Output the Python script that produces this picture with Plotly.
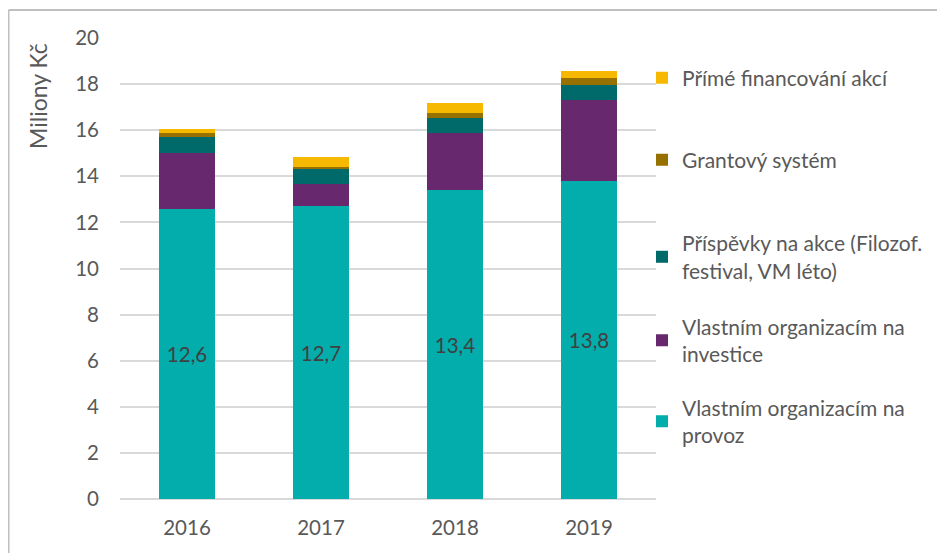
import plotly.graph_objects as go

years = ["2016", "2017", "2018", "2019"]
provoz = [12.6, 12.7, 13.4, 13.8]
investice = [2.4, 0.95, 2.5, 3.5]
prispevky = [0.7, 0.65, 0.65, 0.68]
granty = [0.16, 0.1, 0.2, 0.3]
prime = [0.19, 0.44, 0.44, 0.31]

names = [
    "Vlastním organizacím na<br>provoz",
    "Vlastním organizacím na<br>investice",
    "Příspěvky na akce (Filozof.<br>festival, VM léto)",
    "Grantový systém",
    "Přímé financování akcí",
]
series = [provoz, investice, prispevky, granty, prime]
colors = ["#03ADAC", "#68286E", "#006A6A", "#977100", "#F6B900"]
legend_ids = ["legend5", "legend4", "legend3", "legend2", "legend"]
legend_y = [0.168, 0.344, 0.525, 0.735, 0.913]

FONT = "Lato"
GREY = "#595959"

# plot area in screen pixels (page has an 8px body margin)
PX0, PX1, PY0, PY1 = 120, 656, 38, 499
PW, PH = PX1 - PX0, PY1 - PY0


def px(x):
    return (x - PX0) / PW


def py(y):
    return (PY1 - y) / PH


fig = go.Figure()
for i, (nm, vals, col, lid) in enumerate(zip(names, series, colors, legend_ids)):
    kw = {}
    if i == 0:
        kw = dict(
            text=vals,
            texttemplate="%{y:.1f}",
            textposition="inside",
            insidetextanchor="middle",
            textangle=0,
            textfont=dict(family=FONT, size=20.5, color="#404040"),
            constraintext="none",
        )
    fig.add_trace(go.Bar(
        x=years, y=vals, name=nm, marker=dict(color=col, line=dict(width=0)),
        legend=lid, hoverinfo="x+y+name", **kw,
    ))

layout_legends = {}
for lid, ly in zip(legend_ids, legend_y):
    layout_legends[lid] = dict(
        x=px(642), xanchor="left", y=ly, yanchor="middle",
        bgcolor="rgba(0,0,0,0)", font=dict(family=FONT, size=21, color=GREY),
    )

fig.update_layout(
    barmode="stack",
    bargap=0.575,
    width=945, height=553,
    margin=dict(l=PX0 - 8, r=945 - (PX1 - 8), t=PY0 - 8, b=553 - (PY1 - 8)),
    paper_bgcolor="white", plot_bgcolor="white",
    separators=", ",
    font=dict(family=FONT, size=20, color=GREY),
    showlegend=True,
    **layout_legends,
)
fig.update_xaxes(
    showgrid=False, showline=False, ticks="",
    tickfont=dict(family=FONT, size=20.5, color=GREY), ticklabelstandoff=14,
)
fig.update_yaxes(
    range=[0, 20], dtick=2, showgrid=True, gridcolor="#D9D9D9", gridwidth=1.5,
    zeroline=True, zerolinecolor="#D9D9D9", zerolinewidth=1.5,
    showline=False, ticks="",
    tickfont=dict(family=FONT, size=20.5, color=GREY), ticklabelstandoff=20,
)
fig.add_annotation(
    text="Miliony Kč", textangle=-90, xref="paper", yref="paper",
    x=px(38), y=py(96), xanchor="center", yanchor="middle",
    showarrow=False, font=dict(family=FONT, size=23, color=GREY),
)
# chart border (top and left edges)
fig.add_shape(type="line", xref="paper", yref="paper",
              x0=px(8.5), x1=px(950), y0=py(10), y1=py(10),
              line=dict(color="#BFBFBF", width=2))
fig.add_shape(type="line", xref="paper", yref="paper",
              x0=px(8.5), x1=px(8.5), y0=py(10), y1=py(560),
              line=dict(color="#BFBFBF", width=2))

fig.write_html("out.html")
